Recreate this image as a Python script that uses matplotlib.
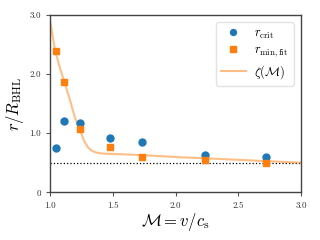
import matplotlib
matplotlib.use("Agg")
import matplotlib.pyplot as plt

plt.rcParams['mathtext.fontset'] = 'cm'
plt.rcParams['font.family'] = 'serif'
plt.rcParams['font.serif'] = ['cmr10', 'DejaVu Serif']
plt.rcParams['axes.formatter.use_mathtext'] = True

# simulation points
mach = [1.05, 1.114, 1.237, 1.482, 1.733, 2.232, 2.72]
r_crit = [0.75, 1.20, 1.17, 0.915, 0.86, 0.64, 0.605]
r_min_fit = [2.39, 1.86, 1.07, 0.775, 0.595, 0.545, 0.49]

# fitted curve zeta(M)
zeta_m = [1.0, 1.04, 1.08, 1.11, 1.16, 1.20, 1.24, 1.27, 1.30, 1.33, 1.36, 1.39, 1.43,
          1.72, 2.04, 2.23, 2.72, 3.0]
zeta_v = [2.92, 2.41, 2.10, 1.90, 1.56, 1.26, 1.05, 0.88, 0.77, 0.71, 0.68, 0.665, 0.657,
          0.633, 0.595, 0.578, 0.53, 0.503]

x_ticks = [1.0, 1.5, 2.0, 2.5, 3.0]
x_ticklabels = ['1.0', '1.5', '2.0', '2.5', '3.0']
y_ticks = [0, 1, 2, 3]
y_ticklabels = ['0', '1.0', '2.0', '3.0']

fig = plt.figure(figsize=(3.2, 2.4), dpi=100)
ax = fig.add_axes([0.156, 0.198, 0.785, 0.74])

ax.plot(mach, r_crit, 'o', color='#1f77b4', markersize=5, label=r'$r_{\rm crit}$', zorder=3)
ax.plot(mach, r_min_fit, 's', color='#ff7f0e', markersize=5, label=r'$r_{\rm min,fit}$', zorder=3)
ax.plot(zeta_m, zeta_v, '-', color='#ff7f0e', alpha=0.5, lw=1.5, label=r'$\zeta(\mathcal{M})$', zorder=2)
ax.axhline(0.5, color='black', ls=':', lw=0.9, zorder=1)

ax.set_xlim(1.0, 3.0)
ax.set_ylim(0, 3.0)
ax.set_xticks(x_ticks)
ax.set_xticklabels(x_ticklabels)
ax.set_yticks(y_ticks)
ax.set_yticklabels(y_ticklabels)
ax.tick_params(direction='out', length=3, width=0.8, colors='#555555', labelsize=6.5, labelcolor='#333333')
ax.set_xlabel(r'$\mathcal{M} = v/c_{\rm s}$', fontsize=12, labelpad=1)
ax.set_ylabel(r'$r/R_{\rm BHL}$', fontsize=12, labelpad=2)
for side in ['top', 'right', 'left', 'bottom']:
    ax.spines[side].set_color('#444444')
    ax.spines[side].set_linewidth(1.0)

ax.legend(loc='upper right', fontsize=9, frameon=True, fancybox=True, framealpha=0.8,
          edgecolor='#dddddd', handlelength=2.0, handletextpad=0.7, markerscale=0.85,
          borderpad=0.4, labelspacing=0.3, borderaxespad=0.6)

fig.savefig('out.png', dpi=100)
